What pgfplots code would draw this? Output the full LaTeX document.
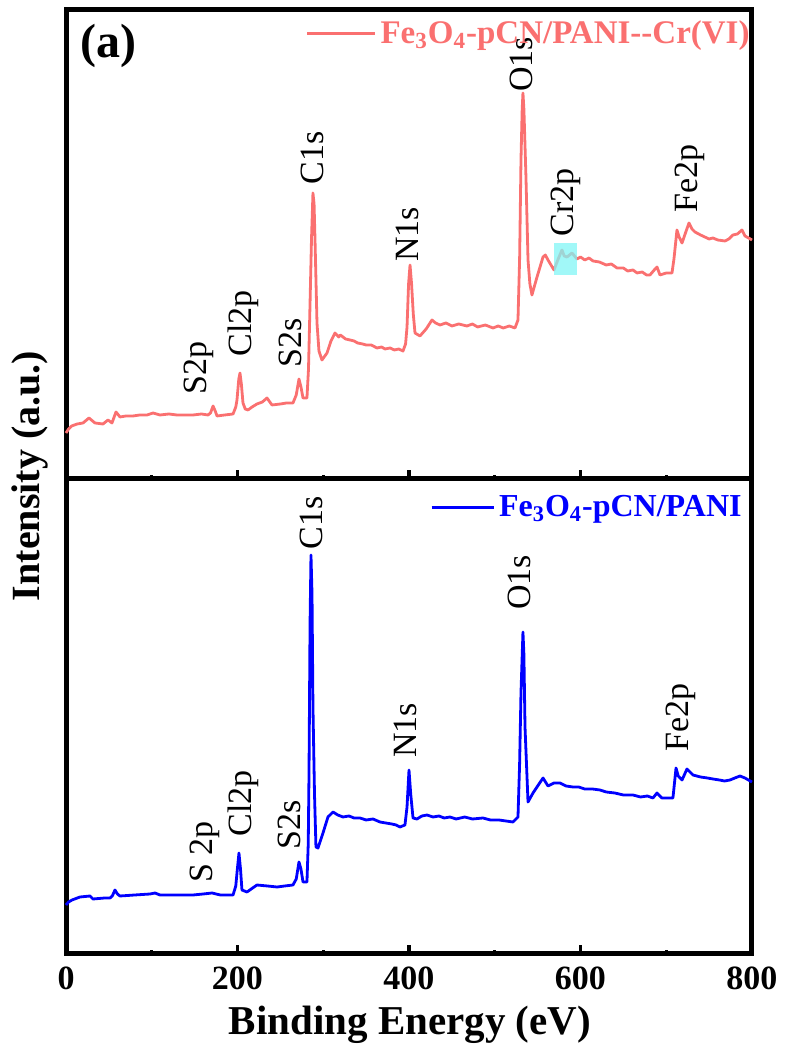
\documentclass[border=0pt]{standalone}
\usepackage{fontspec}
\setmainfont{Liberation Serif}
\usepackage{pgfplots}
\pgfplotsset{compat=1.18}

\definecolor{salmonline}{RGB}{250,112,112}
\definecolor{crbox}{RGB}{130,245,245}

\pgfplotsset{
  xpspanel/.style={
    scale only axis, width=343pt,
    xmin=0, xmax=800, ymin=0,
    ytick=\empty,
    xtick={0,200,400,600,800},
    minor xtick={100,300,500,700},
    tick pos=bottom, tick align=inside,
    major tick length=4.5pt, minor tick length=1.8pt,
    every tick/.style={black, line width=1.6pt},
    axis line style={line width=2.5pt},
    /pgf/number format/assume math mode=true,
    xticklabel style={font=\bfseries\fontsize{17}{17}\selectfont, yshift=-3pt},
    legend style={draw=none, fill=none, inner sep=0pt},
    clip=false,
  },
}
\tikzset{pk/.style={rotate=90, anchor=west, inner sep=0pt, font=\fontsize{17}{17}\selectfont}}

\begin{document}
\begin{tikzpicture}
\useasboundingbox (0,0) rectangle (393pt,525pt);

% top panel: after Cr(VI) uptake
\begin{axis}[xpspanel, at={(33pt,285.5pt)}, anchor=south west,
  height=234.5pt, ymax=469, xticklabels=\empty,
  legend image code/.code={\draw[#1, line width=1.5pt] (0pt,0pt) -- (34pt,0pt);},
  legend style={at={(1,1)}, anchor=north east, xshift=1pt, yshift=-3pt,
    font=\bfseries\fontsize{16.5}{16.5}\selectfont}]
\addplot[salmonline, line width=1.4pt, line join=round] coordinates {
(0,46)(3,50)(6.6,53)(13,55)(19.8,56)(26.8,61)(33.8,56)(43.1,55)(49,59)(53.6,56)
(58.3,67)(63,62)(70,63)(78.1,63)(86,64)(94.5,64)(101.5,66)(109.6,64)(120,65)(129.4,64)
(140,64)(148.1,64)(158,65)(165.6,64)(168.5,66)(171.5,73)(174,68)(176.1,63)(185,64)(194.8,65)
(198,72)(199.4,79)(201.5,100)(202.9,106)(204.5,95)(206.4,76)(209,70)(212.2,69)(217,72)(222.7,75)
(229,77)(234.4,81)(240.2,74)(250,75)(257,76)(264.7,76)(268.5,84)(271.7,100)(274,92)(276.4,81)
(281,81)(282.8,110)(284.5,172)(286.3,240)(288,286)(289.3,275)(290.4,239)(292.7,156)(295,128)(298.5,119)
(304.4,126)(309,138)(313.7,146)(318,142)(320,144)(326,140)(331.2,139)(336,138)(340,136)(346,135)
(350,134)(356,134)(362.7,131)(368,132)(372,130)(378,131)(383,129)(388,130)(393,128)(396,135)
(397.7,152)(399.5,195)(401.2,214)(403,195)(405,165)(407,146)(412.8,143)(420,150)(426.8,159)(431,156)
(436.2,154)(443,156)(450,153)(458,155)(467.6,153)(474,155)(480,152)(489,154)(498,151)(504,153)
(510,151)(517,153)(523.6,151)(527.1,159)(529,220)(530.6,319)(532,370)(532.9,386)(534,370)(536.4,302)
(538.8,219)(541,195)(543.4,184)(546,192)(549.3,202)(556.3,222)(559,224)(562.1,219)(569.1,209)(574,220)
(578.4,229)(581,223)(584.3,222)(590.1,226)(595.9,220)(600,222)(605,219)(610,221)(614.6,218)(622,217)
(630,214)(636,215)(642.6,211)(650,211)(655,208)(661.2,209)(666,206)(672,207)(677,204)(681,204)
(686,209)(689.2,212)(692.7,204)(700,206)(706.7,206)(709,220)(712.5,249)(715,242)(718.4,236)(722,245)
(726.5,256)(730,250)(733.5,247)(740,244)(745,242)(750,240)(754.5,241)(760,239)(768.5,238)(773,240)
(777.8,244)(783,245)(788.3,249)(791.8,243)(796,241)(800,239)
};
\addlegendentry{\textcolor{salmonline}{Fe\textsubscript{3}O\textsubscript{4}-pCN/PANI-{}-Cr(VI)}}
\fill[crbox, fill opacity=0.75] (axis cs:569,204) rectangle (axis cs:596,236);
\node[anchor=north west, inner sep=0pt, font=\bfseries\fontsize{24}{24}\selectfont]
  at (rel axis cs:0,1) [xshift=7pt, yshift=-7pt] {(a)};
\node[pk] at (axis cs:155.1,84) {S2p};
\node[pk] at (axis cs:206.4,122) {Cl2p};
\node[pk] at (axis cs:261.2,111) {S2s};
\node[pk] at (axis cs:286.9,294) {C1s};
\node[pk] at (axis cs:397.7,217) {N1s};
\node[pk] at (axis cs:530.6,387) {O1s};
\node[pk] at (axis cs:583.1,242) {Cr2p};
\node[pk] at (axis cs:727.7,266) {Fe2p};
\end{axis}

% bottom panel: pristine composite
\begin{axis}[xpspanel, at={(33pt,48pt)}, anchor=south west,
  height=237.5pt, ymax=475,
  legend image code/.code={\draw[#1, line width=1.5pt] (0pt,0pt) -- (31pt,0pt);},
  legend style={at={(1,1)}, anchor=north east, xshift=-3pt, yshift=-6pt,
    font=\bfseries\fontsize{16}{16}\selectfont}]
\addplot[blue, line width=1.4pt, line join=round] coordinates {
(0,49)(3,52)(7,54)(16.3,57)(28,58)(31.5,55)(45,56)(51.3,56)(54,58)(57.1,64)
(60,60)(63,58)(80,59)(98,60)(103.8,61)(109.6,59)(130,59)(148.1,59)(160,60)(170.3,61)
(180,59)(194.8,59)(198,68)(199.4,81)(201.7,101)(203.5,85)(205.2,64)(211.1,62)(216,65)(222.7,69)
(235,68)(246.1,67)(255,68)(264.7,69)(268.5,75)(271.7,92)(274,85)(276.4,72)(281,72)(282.5,110)
(283.4,181)(284.6,330)(285.7,399)(286.9,360)(288,247)(289.8,160)(291.5,107)(293.9,106)(299.7,121)(305.5,137)
(311.4,142)(317,139)(323,137)(330,138)(336,136)(342.9,136)(350,134)(358,135)(366.2,132)(373,131)
(380,130)(385,129)(389.5,127)(395.3,129)(397.7,147)(400,184)(402,160)(404.7,136)(409.3,135)(415,138)
(421,139)(428,137)(435,138)(441,136)(447.8,137)(455,135)(465,137)(474,135)(486.3,136)(495,134)
(505,134)(513,133)(521.3,132)(527.1,137)(529,190)(530.6,261)(532.9,322)(534,300)(535.3,227)(538.8,152)
(544.6,161)(556.3,176)(562.1,168)(569,171)(576.1,171)(583,168)(591.2,167)(598,167)(605,165)(614,165)
(622.7,164)(630,162)(640,161)(650,159)(661.2,159)(670,157)(678,158)(684.5,156)(689.2,161)(695,156)
(707.8,156)(709.5,170)(711.4,186)(714,178)(718.4,174)(724.2,185)(731.2,179)(740,177)(748,176)(754.5,175)
(762,174)(768,173)(774.3,174)(780,176)(786,178)(791.8,176)(800,172)
};
\addlegendentry{\textcolor{blue}{Fe\textsubscript{3}O\textsubscript{4}-pCN/PANI}}
\node[pk] at (axis cs:162.1,71) {S 2p};
\node[pk] at (axis cs:206.4,117) {Cl2p};
\node[pk] at (axis cs:260.1,104) {S2s};
\node[pk] at (axis cs:285.7,404) {C1s};
\node[pk] at (axis cs:395.3,196) {N1s};
\node[pk] at (axis cs:528.3,344) {O1s};
\node[pk] at (axis cs:717.2,202) {Fe2p};
\end{axis}

\node[rotate=90, font=\bfseries\fontsize{20}{20}\selectfont] at (15pt,287pt) {Intensity (a.u.)};
\node[font=\bfseries\fontsize{20.5}{20.5}\selectfont] at (205pt,12.5pt) {Binding Energy (eV)};
\end{tikzpicture}
\end{document}
